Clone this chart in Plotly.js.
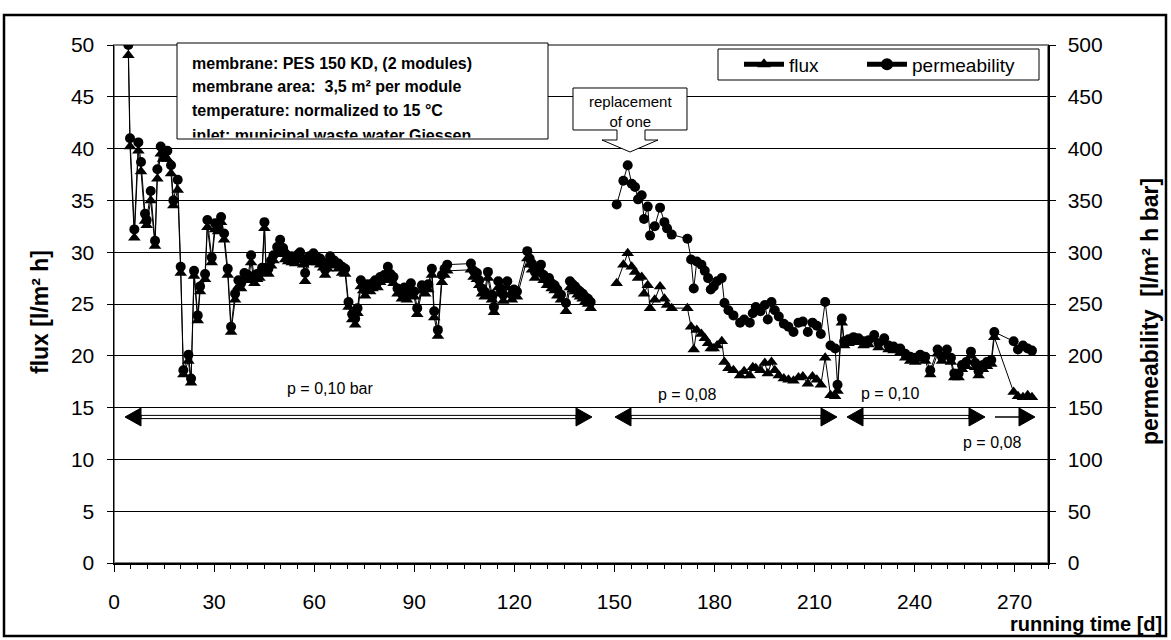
<!DOCTYPE html>
<html>
<head>
<meta charset="utf-8">
<script src="https://cdn.plot.ly/plotly-3.0.1.min.js"></script>
<style>
html,body{margin:0;padding:0;background:#fff;}
#chart{width:1171px;height:640px;}
</style>
</head>
<body>
<div id="chart"></div>
<script>
// ---------------- data ----------------
// running time [d]; 147 marks the break in the record (no line drawn across it)
const days = [
  4.3, 4.8, 6.1, 7.3, 8.1, 9.3, 9.8, 11.0, 12.3, 13.0,
  14.0, 14.7, 16.0, 17.1, 17.8, 19.1, 20.0, 20.8, 22.3, 23.1,
  24.0, 25.1, 25.8, 27.3, 28.0, 29.3, 30.3, 31.2, 32.1, 33.0,
  34.1, 35.1, 36.3, 37.3, 38.1, 39.1, 40.2, 41.1, 42.1, 42.9,
  43.6, 44.4, 45.1, 45.6, 46.3, 47.1, 47.8, 48.9, 49.8, 50.7,
  51.3, 52.2, 53.3, 54.3, 55.2, 55.8, 56.7, 57.3, 58.5, 59.8,
  60.9, 61.8, 62.7, 63.3, 64.0, 64.8, 66.0, 67.3, 68.4, 69.3,
  70.3, 71.4, 72.3, 73.0, 74.0, 74.7, 75.3, 76.0, 76.8, 77.5,
  78.3, 79.0, 79.8, 81.0, 82.1, 82.9, 83.8, 85.0, 86.3, 87.0,
  87.8, 89.0, 90.0, 90.9, 92.3, 93.3, 94.2, 95.3, 96.0, 97.1,
  98.3, 99.1, 99.9, 107.0, 107.8, 108.8, 109.5, 110.3, 111.1, 112.1,
  113.3, 113.9, 115.2, 116.0, 116.7, 117.9, 119.3, 119.9, 120.8, 123.9,
  124.6, 125.3, 126.2, 127.1, 128.0, 128.8, 129.8, 130.4, 131.2, 132.1,
  132.9, 134.0, 135.5, 136.7, 137.5, 138.2, 139.0, 139.7, 140.5, 141.2,
  142.1, 142.9,
  147,
  150.7, 152.7, 154.0, 155.2, 156.2, 157.1, 158.2, 158.9, 160.0, 160.7,
  162.1, 163.7, 165.0, 165.8, 167.2, 171.9, 173.0, 173.8, 174.7, 176.1,
  177.1, 178.1, 178.9, 179.8, 180.8, 182.2, 183.0, 184.2, 185.7, 187.7,
  188.9, 190.6, 191.5, 192.4, 193.8, 195.1, 196.0, 197.1, 198.1, 199.3,
  200.8, 202.2, 203.7, 205.2, 206.5, 208.0, 209.4, 210.7, 211.9, 213.2,
  214.8, 216.2, 216.9,
  218.2, 218.9, 220.2, 221.7, 223.2, 224.7, 226.2, 227.9, 229.2, 230.9,
  232.2, 233.7, 235.7, 237.2, 238.7, 240.2, 241.7, 243.2, 244.7, 246.9,
  248.2, 249.7, 250.9, 251.9, 253.2, 254.2, 255.5, 256.9, 258.2, 259.2,
  260.5, 261.7, 263.0, 263.9,
  269.7, 271.0, 272.5, 273.9, 275.2
];

// flux [l/m² h]
const flux = [
  49.0, 40.2, 31.4, 39.8, 37.8, 33.0, 32.6, 35.0, 30.6, 37.1,
  39.5, 39.0, 39.0, 37.6, 34.5, 36.0, 28.0, 18.2, 19.5, 17.4,
  27.7, 23.4, 26.2, 27.4, 32.4, 29.0, 32.2, 32.0, 32.9, 31.2,
  27.8, 22.3, 25.4, 26.7, 26.5, 27.4, 27.3, 29.0, 27.0, 27.4,
  27.5, 28.0, 32.3, 28.0, 27.9, 28.7, 29.2, 30.0, 30.6, 29.8,
  29.3, 29.1, 29.0, 28.9, 29.2, 29.4, 28.8, 27.2, 29.0, 29.3,
  29.0, 28.8, 28.5, 27.8, 28.4, 29.0, 28.7, 28.4, 28.0, 27.9,
  24.7, 23.5, 23.0, 24.1, 26.7, 26.3, 25.8, 26.4, 26.2, 26.5,
  26.8, 26.6, 27.1, 27.3, 28.0, 27.4, 27.0, 26.0, 25.5, 26.1,
  25.4, 26.4, 25.7, 24.0, 26.3, 26.0, 26.4, 27.8, 23.7, 21.9,
  27.1, 27.8, 28.2, 28.3, 27.6, 27.4, 26.8, 26.0, 25.7, 27.5,
  25.4, 24.2, 26.6, 26.0, 25.3, 26.6, 25.4, 25.9, 25.7, 29.4,
  28.8, 28.3, 27.5, 27.9, 28.2, 27.3, 26.8, 27.0, 26.5, 26.3,
  25.8, 25.4, 24.3, 26.6, 26.4, 26.2, 25.9, 25.7, 25.5, 25.2,
  25.0, 24.6,
  null,
  27.0, 28.8, 29.9, 28.6, 28.1, 27.5, 27.6, 26.0, 26.8, 24.6,
  25.4, 26.7, 25.5, 24.9, 24.6, 24.6, 22.8, 20.6, 22.5, 22.1,
  21.7, 21.2, 20.7, 20.7, 21.0, 21.4, 19.4, 18.8, 18.6, 18.1,
  18.5, 18.1, 18.9, 18.8, 18.6, 19.3, 18.3, 19.4, 18.6, 18.1,
  17.8, 17.7, 17.6, 17.9, 18.0, 17.3, 18.0, 17.7, 17.2, 19.8,
  16.2, 16.1, 16.6,
  23.2, 21.0, 21.2, 21.4, 21.3, 21.0, 21.1, 21.6, 20.8, 21.3,
  20.6, 20.5, 20.3, 19.8, 19.5, 19.4, 19.7, 19.5, 18.2, 20.2,
  19.5, 20.2, 19.4, 17.9, 17.9, 18.7, 19.0, 20.0, 18.9, 18.1,
  18.7, 19.0, 19.2, 21.8,
  16.5, 16.1, 16.0, 16.2, 16.0
];

// permeability [l/m² h bar]
const permeability = [
  500, 410, 322, 406, 387, 337, 331, 359, 311, 380,
  402, 395, 398, 384, 350, 370, 286, 186, 201, 178,
  282, 239, 267, 279, 331, 295, 328, 325, 334, 318,
  284, 228, 260, 273, 270, 280, 278, 297, 275, 279,
  280, 285, 329, 285, 284, 292, 297, 305, 312, 304,
  299, 296, 296, 294, 298, 300, 293, 280, 296, 299,
  295, 294, 290, 283, 290, 296, 292, 289, 286, 284,
  252, 240, 236, 246, 273, 268, 263, 269, 267, 270,
  273, 271, 276, 278, 286, 279, 276, 265, 260, 266,
  259, 270, 262, 246, 268, 265, 269, 284, 243, 225,
  278, 284, 288, 289, 282, 280, 273, 265, 262, 281,
  259, 247, 272, 265, 259, 272, 259, 264, 262, 301,
  294, 289, 281, 284, 288, 278, 273, 275, 270, 268,
  264, 259, 251, 272, 269, 267, 264, 262, 260, 257,
  255, 252,
  null,
  346, 369, 384, 366, 363, 351, 355, 332, 344, 316,
  325, 343, 329, 323, 317, 313, 293, 265, 291, 288,
  282, 275, 264, 267, 272, 275, 251, 244, 239, 232,
  235, 232, 241, 247, 243, 249, 235, 252, 244, 238,
  231, 228, 223, 232, 233, 223, 232, 229, 221, 252,
  210, 207, 172,
  236, 214, 216, 218, 217, 214, 215, 220, 212, 217,
  210, 209, 207, 202, 199, 198, 201, 199, 186, 206,
  199, 206, 198, 183, 183, 191, 194, 204, 193, 185,
  191, 194, 196, 223,
  214, 206, 210, 207, 205
];

const seriesNames = ['flux', 'permeability'];
const axisTitles = {x: 'running time [d]', y: 'flux [l/m² h]', y2: 'permeability  [l/m² h bar]'};
const xTickStep = 30;
const fluxTickStep = 5;
const permTickStep = 50;

const infoLines = [
  'membrane: PES 150 KD, (2 modules)',
  'membrane area:  3,5 m² per module',
  'temperature: normalized to 15 °C',
  'inlet: municipal waste water Giessen'
];
const pressureLabels = ['p = 0,10 bar', 'p = 0,08', 'p = 0,10', 'p = 0,08'];

// ---------------- layout helpers (pixel -> paper) ----------------
const FONT = 'Liberation Sans, Arial, Helvetica, sans-serif';
const W = 1171, H = 640;
const M = {l: 114, r: 123, t: 45, b: 77};
const PW = W - M.l - M.r, PH = H - M.t - M.b;
const X = p => (p - M.l) / PW;
const Y = p => (H - M.b - p) / PH;

const shapes = [];
// plot-area border (grey)
shapes.push({type: 'rect', xref: 'paper', yref: 'paper', x0: 0, x1: 1, y0: 0, y1: 1,
  line: {color: '#808080', width: 2}, layer: 'between'});
// outer chart frame
shapes.push({type: 'rect', xref: 'paper', yref: 'paper', x0: X(4), x1: X(1166), y0: Y(636), y1: Y(15),
  line: {color: '#000', width: 2.5}, layer: 'above'});
// info box
shapes.push({type: 'rect', xref: 'paper', yref: 'paper', x0: X(177), x1: X(548), y0: Y(139), y1: Y(43),
  fillcolor: '#fff', line: {color: '#000', width: 1}, layer: 'above'});
// legend box
shapes.push({type: 'rect', xref: 'paper', yref: 'paper', x0: X(718), x1: X(1039), y0: Y(80), y1: Y(49),
  fillcolor: '#fff', line: {color: '#000', width: 1}, layer: 'above'});
// callout "replacement of one"
const cp = [[573,88],[687,88],[687,130],[645,130],[645,140],[658,140],[630,152],[602,140],[617,140],[617,130],[573,130]];
shapes.push({type: 'path', xref: 'paper', yref: 'paper',
  path: 'M' + cp.map(p => X(p[0]).toFixed(5) + ',' + Y(p[1]).toFixed(5)).join(' L') + ' Z',
  fillcolor: '#fff', line: {color: '#000', width: 1}, layer: 'above'});

function arrow(x1, x2, y, left, right, hollow) {
  const hl = 16, hh = 9;
  const s1 = left ? x1 + hl : x1, s2 = right ? x2 - hl : x2;
  if (hollow) {
    shapes.push({type: 'rect', xref: 'paper', yref: 'paper', x0: X(s1), x1: X(s2), y0: Y(y + 1.6), y1: Y(y - 1.6),
      fillcolor: '#fff', line: {color: '#000', width: 1}, layer: 'above'});
  } else {
    shapes.push({type: 'line', xref: 'paper', yref: 'paper', x0: X(s1), x1: X(s2), y0: Y(y), y1: Y(y),
      line: {color: '#000', width: 1.5}, layer: 'above'});
  }
  const tri = pts => 'M' + pts.map(p => X(p[0]).toFixed(5) + ',' + Y(p[1]).toFixed(5)).join(' L') + ' Z';
  if (left) shapes.push({type: 'path', xref: 'paper', yref: 'paper', path: tri([[x1, y], [x1 + hl, y - hh], [x1 + hl, y + hh]]),
    fillcolor: '#000', line: {color: '#000', width: 1}, layer: 'above'});
  if (right) shapes.push({type: 'path', xref: 'paper', yref: 'paper', path: tri([[x2, y], [x2 - hl, y - hh], [x2 - hl, y + hh]]),
    fillcolor: '#000', line: {color: '#000', width: 1}, layer: 'above'});
}
arrow(125, 592, 417, true, true, true);
arrow(615, 837, 417, true, true, true);
arrow(847, 985, 417, true, true, true);
arrow(995, 1035, 417, false, true, false);

const annotations = [];
const ann = (o) => annotations.push(Object.assign({xref: 'paper', yref: 'paper', showarrow: false}, o));
const boldFont = (s) => ({family: FONT, size: s, color: '#000', weight: 'bold'});
const regFont = (s) => ({family: FONT, size: s, color: '#000'});

// info box lines (the last one is cut by the box, as in the original)
[63.5, 87, 110.5].forEach((yy, i) => ann({x: X(191), y: Y(yy), xanchor: 'left', yanchor: 'middle',
  text: infoLines[i], font: boldFont(16), borderpad: 0}));
ann({x: X(191), y: Y(125.5), xanchor: 'left', yanchor: 'top', text: infoLines[3], font: boldFont(16),
  height: 10.5, valign: 'top', borderpad: 0});
// callout text
ann({x: X(630), y: Y(112), xanchor: 'center', yanchor: 'middle', text: 'replacement<br>of one', font: regFont(15)});
// pressure labels
ann({x: X(330), y: Y(388), xanchor: 'center', yanchor: 'middle', text: pressureLabels[0], font: regFont(16)});
ann({x: X(687), y: Y(394), xanchor: 'center', yanchor: 'middle', text: pressureLabels[1], font: regFont(16)});
ann({x: X(890), y: Y(393), xanchor: 'center', yanchor: 'middle', text: pressureLabels[2], font: regFont(16)});
ann({x: X(992), y: Y(442), xanchor: 'center', yanchor: 'middle', text: pressureLabels[3], font: regFont(16)});
// axis titles
ann({x: X(1164), y: Y(624), xanchor: 'right', yanchor: 'middle', text: axisTitles.x, font: boldFont(20)});
ann({x: X(40), y: Y(312), xanchor: 'center', yanchor: 'middle', textangle: -90, text: axisTitles.y, font: boldFont(23)});
ann({x: X(1150), y: Y(312), xanchor: 'center', yanchor: 'middle', textangle: -90, text: axisTitles.y2, font: boldFont(23)});

const traces = [
  {x: days, y: flux, name: seriesNames[0], type: 'scatter', mode: 'lines+markers', yaxis: 'y', legend: 'legend',
   line: {color: '#000', width: 1}, marker: {symbol: 'triangle-up', size: 11, color: '#000'}, connectgaps: false},
  {x: days, y: permeability, name: seriesNames[1], type: 'scatter', mode: 'lines+markers', yaxis: 'y2', legend: 'legend2',
   line: {color: '#000', width: 1}, marker: {symbol: 'circle', size: 10, color: '#000'}, connectgaps: false}
];

const legendBase = {xanchor: 'left', yanchor: 'middle', orientation: 'h', bgcolor: 'rgba(0,0,0,0)',
  borderwidth: 0, font: regFont(19), itemwidth: 40, itemsizing: 'constant'};

const layout = {
  width: W, height: H,
  margin: M,
  paper_bgcolor: '#fff', plot_bgcolor: '#fff',
  font: {family: FONT, color: '#000'},
  showlegend: true,
  hovermode: false,
  legend: Object.assign({x: X(739), y: Y(64.5)}, legendBase),
  legend2: Object.assign({x: X(862), y: Y(64.5)}, legendBase),
  xaxis: {range: [0, 280], tick0: 0, dtick: xTickStep, ticks: 'outside', ticklen: 7, tickwidth: 1, tickcolor: '#000',
    showline: true, linecolor: '#000', linewidth: 2, showgrid: false, zeroline: false,
    tickfont: regFont(21), ticklabelstandoff: 12,
    minor: {dtick: 5, tick0: 0, ticks: 'outside', ticklen: 4, tickcolor: '#000', tickwidth: 1, showgrid: false},
    fixedrange: true},
  yaxis: {range: [0, 50], tick0: 0, dtick: fluxTickStep, ticks: 'outside', ticklen: 6, tickcolor: '#000',
    showline: true, linecolor: '#000', linewidth: 1.5, showgrid: true, gridcolor: '#000', gridwidth: 1,
    zeroline: false, tickfont: regFont(21), ticklabelstandoff: 8, fixedrange: true},
  yaxis2: {range: [0, 500], tick0: 0, dtick: permTickStep, overlaying: 'y', side: 'right', ticks: 'outside',
    ticklen: 6, tickcolor: '#000', showline: true, linecolor: '#000', linewidth: 1.5, showgrid: false,
    zeroline: false, tickfont: regFont(21), ticklabelstandoff: 8, fixedrange: true},
  shapes: shapes,
  annotations: annotations
};

Plotly.newPlot('chart', traces, layout, {displayModeBar: false, staticPlot: true});
</script>
</body>
</html>
